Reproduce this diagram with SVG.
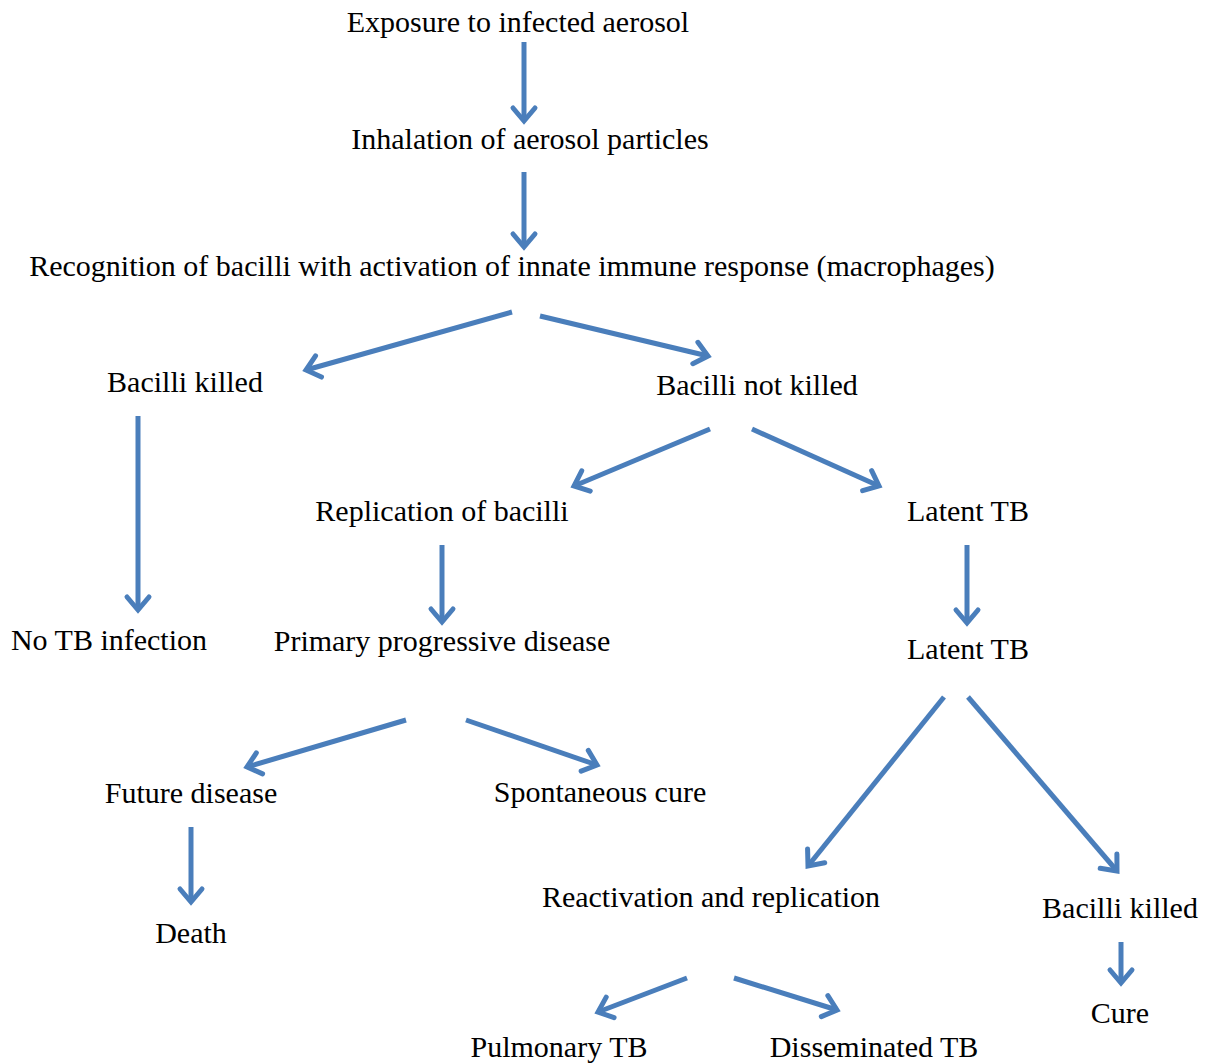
<svg xmlns="http://www.w3.org/2000/svg" width="1206" height="1063" viewBox="0 0 1206 1063">
<style>
text{font-family:"Liberation Serif","Times New Roman",serif;font-size:30px;fill:#000;text-anchor:middle}
.c line{stroke:#4a7ebb;stroke-width:5;fill:none;marker-end:url(#ah)}
</style>
<defs>
<marker id="ah" markerUnits="userSpaceOnUse" markerWidth="40" markerHeight="40" viewBox="-20 -20 40 40" refX="0" refY="0" orient="auto">
<path d="M-13,-11 L0,0 L-13,11" fill="none" stroke="#4a7ebb" stroke-width="5" stroke-linejoin="miter" stroke-linecap="round"/>
</marker>
</defs>
<rect width="1206" height="1063" fill="#fff"/>
<g class="c" id="connectors">
<line x1="524" y1="42" x2="524" y2="121"/>
<line x1="524" y1="172" x2="524" y2="247"/>
<line x1="512" y1="312" x2="306" y2="370"/>
<line x1="540" y1="316" x2="708" y2="356"/>
<line x1="138" y1="416" x2="138" y2="610"/>
<line x1="710" y1="429" x2="574" y2="486"/>
<line x1="752" y1="429" x2="879" y2="486"/>
<line x1="442" y1="545" x2="442" y2="622"/>
<line x1="967" y1="545" x2="967" y2="623"/>
<line x1="406" y1="720" x2="247" y2="767"/>
<line x1="466" y1="720" x2="597" y2="765"/>
<line x1="944" y1="697" x2="808" y2="866"/>
<line x1="968" y1="697" x2="1117" y2="871"/>
<line x1="191" y1="827" x2="191" y2="902"/>
<line x1="1121" y1="942" x2="1121" y2="983"/>
<line x1="687" y1="978" x2="598" y2="1012"/>
<line x1="734" y1="978" x2="837" y2="1010"/>
</g>
<g id="n1"><text x="518" y="32">Exposure to infected aerosol</text></g>
<g id="n2"><text x="530" y="149">Inhalation of aerosol particles</text></g>
<g id="n3"><text x="512" y="276">Recognition of bacilli with activation of innate immune response (macrophages)</text></g>
<g id="n4"><text x="185" y="392">Bacilli killed</text></g>
<g id="n5"><text x="757" y="395">Bacilli not killed</text></g>
<g id="n6"><text x="442" y="521">Replication of bacilli</text></g>
<g id="n7"><text x="968" y="521">Latent TB</text></g>
<g id="n8"><text x="109" y="650">No TB infection</text></g>
<g id="n9"><text x="442" y="651">Primary progressive disease</text></g>
<g id="n10"><text x="968" y="659">Latent TB</text></g>
<g id="n11"><text x="191" y="803">Future disease</text></g>
<g id="n12"><text x="600" y="802">Spontaneous cure</text></g>
<g id="n13"><text x="711" y="907">Reactivation and replication</text></g>
<g id="n14"><text x="1120" y="918">Bacilli killed</text></g>
<g id="n15"><text x="191" y="943">Death</text></g>
<g id="n16"><text x="1120" y="1023">Cure</text></g>
<g id="n17"><text x="559" y="1057">Pulmonary TB</text></g>
<g id="n18"><text x="874" y="1057">Disseminated TB</text></g>
</svg>
